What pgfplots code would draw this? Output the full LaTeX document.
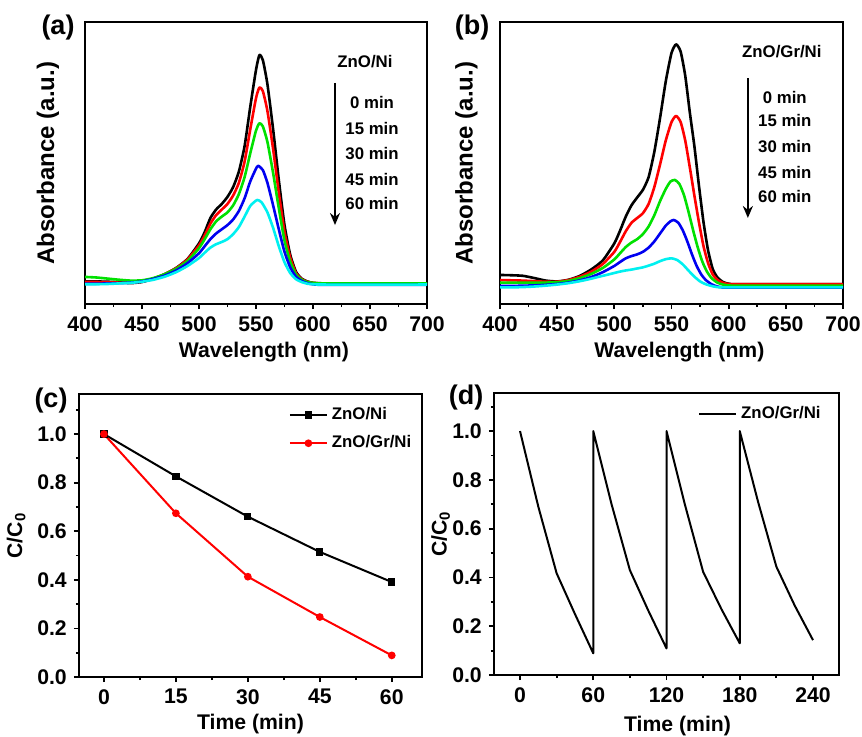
\documentclass[border=0pt]{standalone}
\usepackage{fontspec}
\setmainfont{Liberation Sans}
\usepackage{pgfplots}
\pgfplotsset{compat=1.18}
\usetikzlibrary{arrows.meta}
\definecolor{cgreen}{RGB}{0,225,0}
\definecolor{cblue}{RGB}{0,0,240}
\definecolor{ccyan}{RGB}{0,240,240}
\tikzset{ann/.style={font=\bfseries\fontsize{8.4}{10}\selectfont, inner sep=0pt}}
\pgfplotsset{
  panel/.style={
    scale only axis, anchor=south west,
    /pgf/number format/assume math mode=true,
    font=\bfseries\fontsize{10.6}{12}\selectfont,
    tick label style={font=\bfseries\fontsize{10.6}{12}\selectfont},
    label style={font=\bfseries\fontsize{10.6}{12}\selectfont},
    axis line style={line width=1pt},
    tick align=outside, xtick pos=bottom, ytick pos=left,
    major tick length=2.6pt, minor tick length=1.6pt,
    every tick/.style={black, line width=0.9pt},
    clip=true,
  },
  spec/.style={panel, xmin=400, xmax=700, ymin=0, ymax=100,
    xtick={400,450,...,700}, minor xtick={425,475,...,675}, ytick=\empty,
    xlabel={Wavelength (nm)},
    ylabel={Absorbance (a.u.)},
    ylabel style={font=\bfseries\fontsize{12}{14}\selectfont, at={(axis description cs:-0.055,0.5)}, anchor=south},
    xlabel style={at={(axis description cs:0.523,-0.11)}, anchor=north},
    every axis plot/.append style={line width=1.3pt, line join=round, smooth, tension=0.35}},
}
\begin{document}
\begin{tikzpicture}
% ---------------- (a) ----------------
\begin{axis}[spec, at={(42.5pt,216pt)}, width=171pt, height=141pt]
\addplot[black] coordinates {(400,8.0)(410,8.0)(420,7.9)(430,7.7)(440,7.4)(450,7.8)(460,9.0)(470,10.6)(480,12.8)(490,16.0)(500,21.5)(505,25.5)(510,30.5)(515,33.5)(520,35.5)(525,38.0)(530,41.5)(535,47)(540,56)(545,70)(550,83)(553,88.3)(556,86.5)(560,78)(565,62)(570,44)(575,28)(580,17.5)(585,11.5)(590,9)(595,8)(600,7.5)(610,7.3)(620,7.2)(700,7.2)};
\addplot[red] coordinates {(400,7.8)(410,7.8)(420,7.7)(430,7.6)(440,7.6)(450,7.9)(460,9.0)(470,10.6)(480,12.7)(490,15.8)(500,20.8)(505,24.3)(510,28.5)(515,31.5)(520,33.5)(525,35.5)(530,38.5)(535,43)(540,50.5)(545,62)(550,73)(553,76.8)(556,75.5)(560,68.5)(565,55)(570,39.5)(575,25.5)(580,16.5)(585,11)(590,8.8)(595,7.9)(600,7.5)(610,7.3)(700,7.2)};
\addplot[cgreen] coordinates {(400,9.6)(410,9.4)(420,9.0)(430,8.6)(440,8.3)(450,8.4)(460,9.2)(470,10.6)(480,12.5)(490,15.3)(500,19.8)(505,23)(510,26.5)(515,29.3)(520,31)(525,32.5)(530,35)(535,39)(540,45)(545,53.5)(550,61.5)(553,64.1)(556,63)(560,57.5)(565,46.5)(570,34)(575,22.5)(580,15)(585,10.5)(590,8.6)(595,7.8)(600,7.5)(610,7.3)(700,7.3)};
\addplot[cblue] coordinates {(400,7.2)(410,7.2)(420,7.3)(430,7.4)(440,7.6)(450,8.0)(460,8.9)(470,10.1)(480,11.9)(490,14.5)(500,18.0)(505,20.5)(510,23.0)(515,25.0)(520,26.5)(525,28.0)(530,30.0)(535,33.0)(540,37.5)(545,43.5)(550,48)(552,49.0)(556,47.5)(560,43)(565,35)(570,26.5)(575,18.5)(580,13)(585,9.7)(590,8.2)(595,7.4)(600,7.0)(610,6.8)(700,6.8)};
\addplot[ccyan] coordinates {(400,7.0)(410,7.0)(420,7.1)(430,7.3)(440,7.5)(450,7.9)(460,8.6)(470,9.7)(480,11.3)(490,13.5)(500,16.3)(505,18.2)(510,20)(515,21.2)(520,22.0)(525,23.0)(530,24.8)(535,27.3)(540,31)(545,34.8)(551,36.9)(555,36)(560,32.5)(565,27)(570,20.5)(575,14.8)(580,11)(585,8.8)(590,7.8)(595,7.2)(600,7.0)(610,6.9)(700,6.9)};
\node[ann] at (axis cs:645.6,85.8) {ZnO/Ni};
\draw[line width=1pt, -{Stealth[length=6pt,width=5pt]}] (axis cs:619.3,78.4) -- (axis cs:619.3,28.0);
\node[ann] at (axis cs:651.8,71.3) {0 min};
\node[ann] at (axis cs:651.8,62.4) {15 min};
\node[ann] at (axis cs:651.8,53.5) {30 min};
\node[ann] at (axis cs:651.8,44.3) {45 min};
\node[ann] at (axis cs:651.8,35.8) {60 min};
\end{axis}
% ---------------- (b) ----------------
\begin{axis}[spec, at={(250pt,216pt)}, width=171.5pt, height=141pt,
  ylabel style={at={(axis description cs:-0.045,0.5)}, anchor=south}]
\addplot[black] coordinates {(400,10.3)(410,10.2)(420,10.0)(430,9.2)(440,8.3)(450,8.0)(460,8.6)(470,10.0)(480,12.3)(490,15.5)(500,21.5)(505,26)(510,31)(515,35)(520,37.8)(525,40.5)(530,45)(535,54)(540,66)(545,79)(550,89)(554,92.1)(558,89.5)(562,81)(566,68)(570,56)(574,42)(578,29)(582,19)(586,12.5)(590,9.5)(595,7.8)(600,7.2)(610,7.0)(700,7.0)};
\addplot[red] coordinates {(400,8.5)(410,8.4)(420,8.3)(430,8.1)(440,7.9)(450,7.9)(460,8.5)(470,9.7)(480,11.5)(490,14.2)(500,18.5)(505,22)(510,25.8)(515,28.8)(520,30.5)(525,32.2)(530,35.5)(535,41.5)(540,49.5)(545,58)(550,64.5)(554,66.7)(558,64.5)(562,58)(566,48.5)(570,38.5)(574,29)(578,20.5)(582,14.5)(586,10.5)(590,8.6)(595,7.5)(600,7.1)(610,7.0)(700,7.0)};
\addplot[cgreen] coordinates {(400,7.6)(410,7.6)(420,7.6)(430,7.6)(440,7.6)(450,7.7)(460,8.2)(470,9.2)(480,10.7)(490,12.8)(500,15.8)(505,18.0)(510,20.2)(515,21.8)(520,23.0)(525,24.8)(530,27.5)(535,31.5)(540,36.5)(545,40.8)(549,43.4)(553,44.0)(557,42.5)(561,38.5)(565,32.5)(569,26)(573,20)(577,15)(581,11.5)(585,9.2)(590,7.6)(595,6.9)(600,6.6)(610,6.5)(700,6.5)};
\addplot[cblue] coordinates {(400,6.4)(410,6.4)(420,6.5)(430,6.6)(440,6.8)(450,7.1)(460,7.6)(470,8.4)(480,9.6)(490,11.3)(500,13.5)(505,14.9)(510,16.2)(515,17.0)(520,17.6)(525,18.5)(530,20.0)(535,22.2)(540,25.0)(545,27.8)(549,29.3)(552,29.8)(556,28.8)(560,26)(564,22)(568,17.5)(572,13.5)(576,10.5)(580,8.5)(585,7.0)(590,6.2)(595,5.9)(600,5.8)(700,5.8)};
\addplot[ccyan] coordinates {(400,5.9)(410,5.9)(420,6.0)(430,6.2)(440,6.5)(450,6.9)(460,7.4)(470,8.1)(480,9.0)(490,10.0)(500,11.0)(505,11.5)(510,11.9)(515,12.2)(520,12.6)(525,13.0)(530,13.6)(535,14.3)(540,15.2)(545,15.9)(550,16.2)(555,15.6)(560,14.0)(565,11.8)(570,9.7)(575,8.0)(580,7.0)(585,6.4)(590,6.0)(600,5.9)(700,5.9)};
\node[ann] at (axis cs:646.5,89.5) {ZnO/Gr/Ni};
\draw[line width=1pt, -{Stealth[length=6pt,width=5pt]}] (axis cs:616.8,80.1) -- (axis cs:616.8,30.5);
\node[ann] at (axis cs:649.1,73.4) {0 min};
\node[ann] at (axis cs:649.1,64.9) {15 min};
\node[ann] at (axis cs:649.1,55.7) {30 min};
\node[ann] at (axis cs:649.1,46.8) {45 min};
\node[ann] at (axis cs:649.1,38.3) {60 min};
\end{axis}
% ---------------- (c) ----------------
\begin{axis}[panel, at={(39.5pt,29.5pt)}, width=171.5pt, height=141.5pt,
  xmin=-5.2, xmax=66.3, ymin=0, ymax=1.165,
  xtick={0,15,30,45,60}, minor xtick={7.5,22.5,37.5,52.5},
  ytick={0,0.2,...,1.0}, minor ytick={0.1,0.3,0.5,0.7,0.9,1.1},
  yticklabel style={/pgf/number format/.cd, fixed, fixed zerofill, precision=1},
  xlabel={Time (min)}, ylabel={C/C\textsubscript{0}},
  xlabel style={at={(axis description cs:0.5,-0.105)}, anchor=north},
  ylabel style={at={(axis description cs:-0.135,0.5)}, anchor=south},
  legend style={draw=none, fill=none, at={(axis description cs:0.605,0.975)}, anchor=north west,
    font=\bfseries\fontsize{8.4}{10}\selectfont, row sep=2.5pt, inner sep=1pt},
  legend cell align=left,
  legend image code/.code={\draw[mark repeat=2, mark phase=2, #1] plot coordinates {(0pt,0pt) (9.25pt,0pt) (18.5pt,0pt)};},
  ]
\addplot[black, line width=1pt, mark=square*, mark size=1.3pt] coordinates {(0,1.0)(15,0.826)(30,0.66)(45,0.515)(60,0.391)};
\addlegendentry{ZnO/Ni}
\addplot[red, line width=1pt, mark=*, mark size=1.4pt] coordinates {(0,1.0)(15,0.674)(30,0.413)(45,0.247)(60,0.089)};
\addlegendentry{ZnO/Gr/Ni}
\end{axis}
% ---------------- (d) ----------------
\begin{axis}[panel, at={(247pt,30.5pt)}, width=172.5pt, height=141pt,
  xmin=-21.3, xmax=261.3, ymin=0, ymax=1.156,
  xtick={0,60,120,180,240}, minor xtick={30,90,150,210},
  ytick={0,0.2,...,1.0}, minor ytick={0.1,0.3,0.5,0.7,0.9,1.1},
  yticklabel style={/pgf/number format/.cd, fixed, fixed zerofill, precision=1},
  xlabel={Time (min)}, ylabel={C/C\textsubscript{0}},
  xlabel style={at={(axis description cs:0.532,-0.12)}, anchor=north},
  ylabel style={at={(axis description cs:-0.107,0.5)}, anchor=south},
  legend style={draw=none, fill=none, at={(axis description cs:0.585,0.975)}, anchor=north west,
    font=\bfseries\fontsize{8.4}{10}\selectfont, inner sep=1pt},
  legend cell align=left,
  legend image code/.code={\draw[#1] plot coordinates {(0pt,0pt) (18.5pt,0pt)};},
  ]
\addplot[black, line width=1pt, line join=round] coordinates {(0,1.0)(15,0.69)(30,0.417)(45,0.25)(60,0.089)(60,1.0)(75,0.70)(90,0.43)(105,0.265)(120,0.109)(120,1.0)(135,0.70)(150,0.423)(165,0.27)(180,0.13)(180,1.0)(195,0.71)(210,0.444)(225,0.285)(240,0.143)};
\addlegendentry{ZnO/Gr/Ni}
\end{axis}
% panel labels
\node[font=\bfseries\fontsize{13.5}{15}\selectfont] at (29pt,354pt) {(a)};
\node[font=\bfseries\fontsize{13.5}{15}\selectfont] at (236pt,354pt) {(b)};
\node[font=\bfseries\fontsize{13.5}{15}\selectfont] at (25.5pt,167.5pt) {(c)};
\node[font=\bfseries\fontsize{13.5}{15}\selectfont] at (233pt,169pt) {(d)};
\pgfresetboundingbox
\useasboundingbox (0pt,0pt) rectangle (431pt,368pt);
\end{tikzpicture}
\end{document}
